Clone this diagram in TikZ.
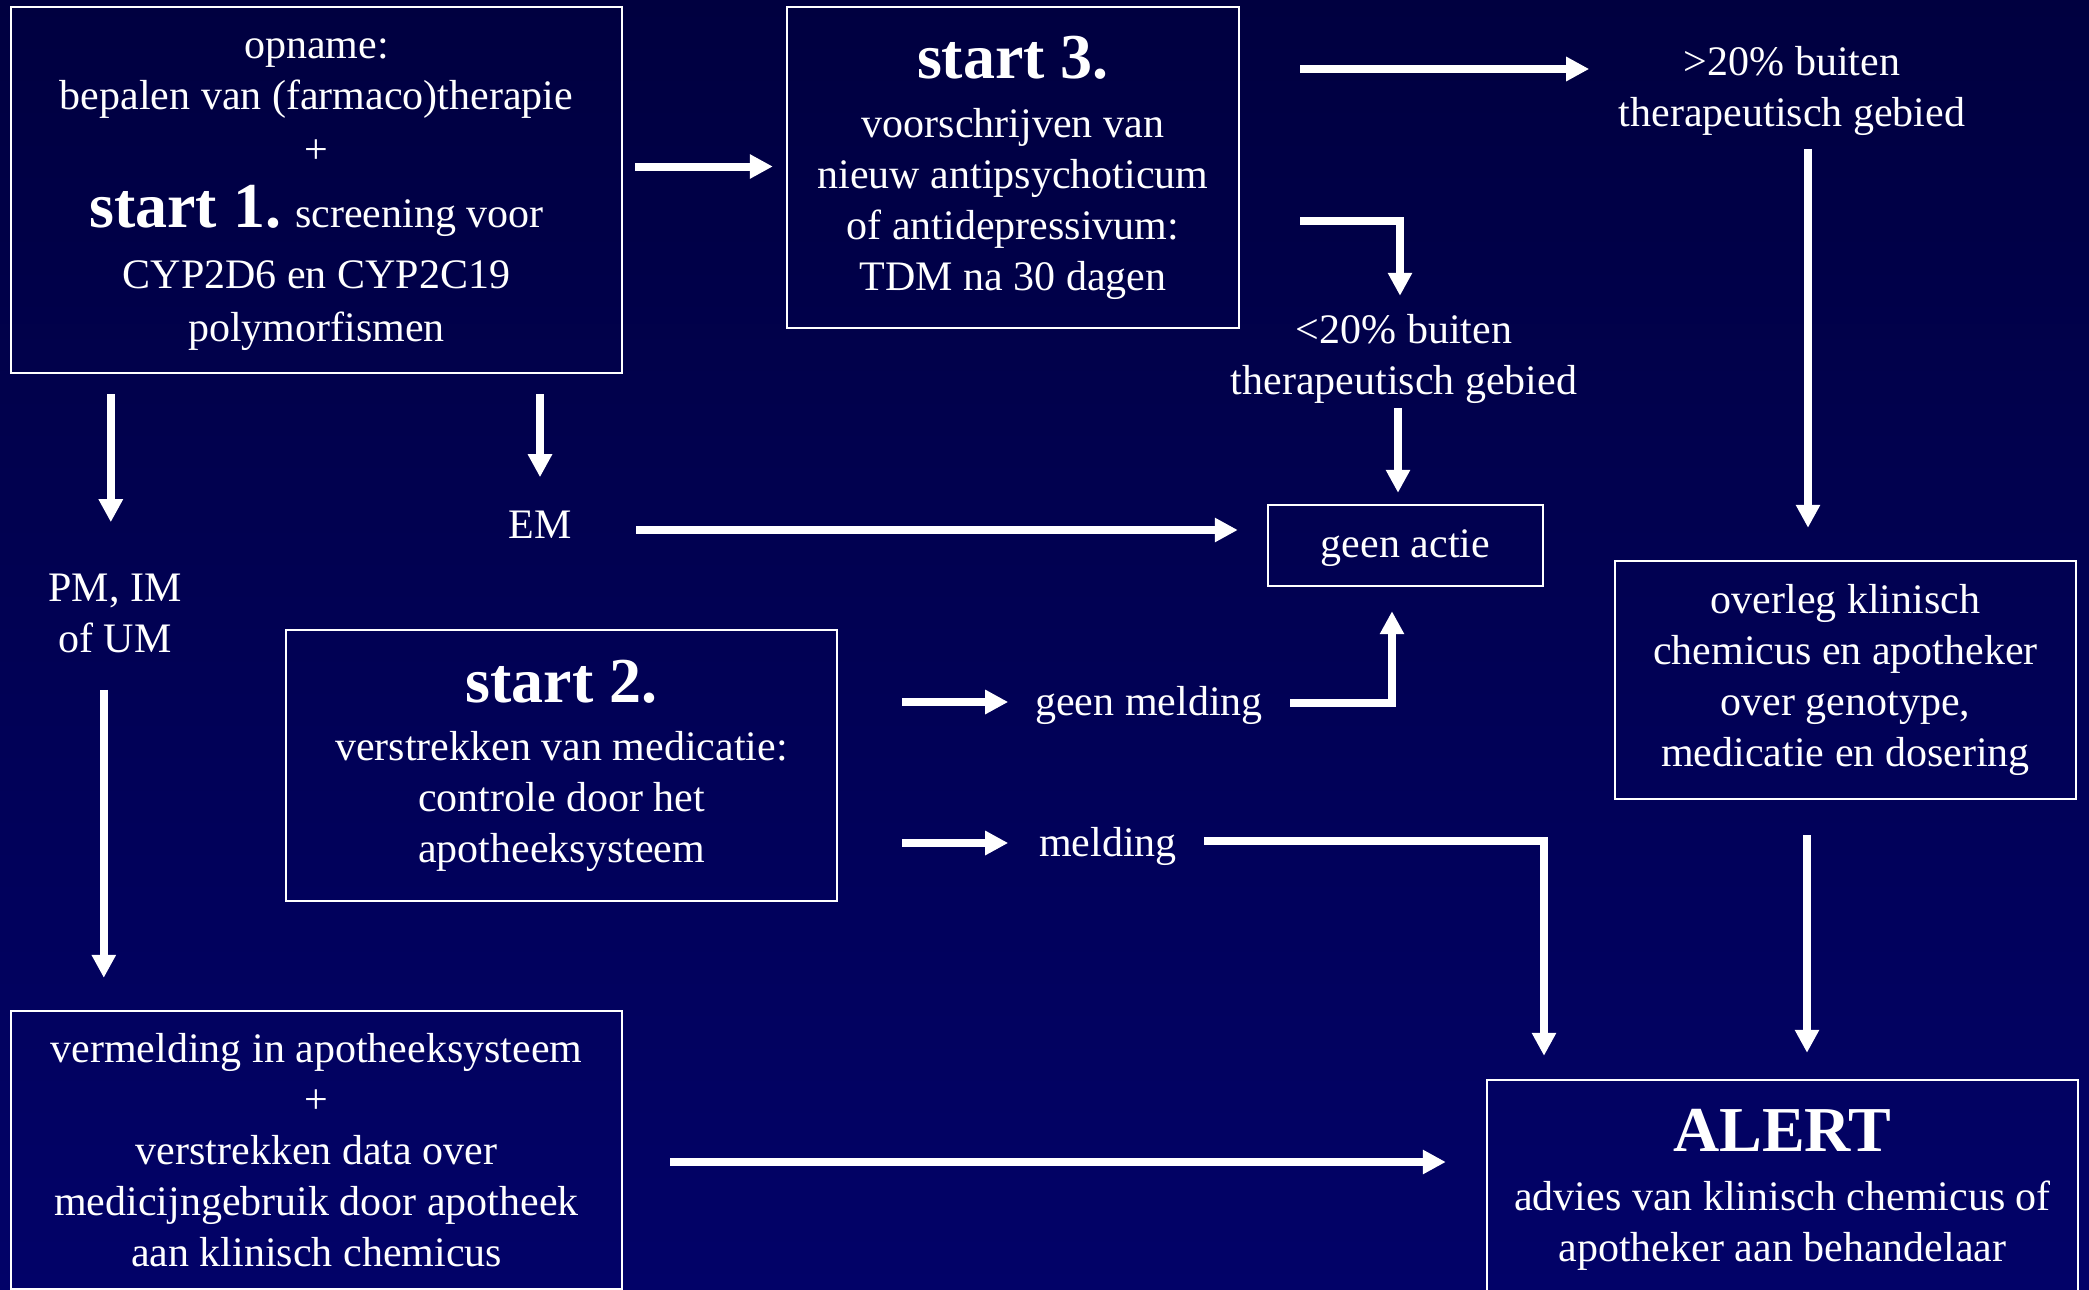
\documentclass[tikz,border=0pt]{standalone}
\usepackage{fontspec}
\setmainfont{Liberation Serif}
\usetikzlibrary{arrows.meta,calc}
\definecolor{bgtop}{RGB}{0,0,64}
\definecolor{bgbot}{RGB}{2,2,104}
\newcommand\startfont{\fontsize{32}{32}\selectfont\bfseries}
\newcommand\alertfont{\fontsize{32}{32}\selectfont\bfseries}
\tikzset{
  txt/.style={text=white, align=center, inner sep=0pt, font=\fontsize{21}{25.5}\selectfont},
  box/.style={txt, draw=white, line width=1.2pt},
  arr/.style={draw=white, line width=4pt, line join=miter, -{Triangle[length=11.5pt,width=11.5pt]}}
}
\begin{document}
\begin{tikzpicture}[x=0.5pt,y=-0.5pt]
\shade[top color=bgtop, bottom color=bgbot] (0,0) rectangle (2089,1290);
\useasboundingbox (0,0) rectangle (2089,1290);

% boxes (sizes in pt = px/2)
\node[box, minimum width=305.5pt, minimum height=183pt] (b1) at (316.5,190)
  {\rule{0pt}{14.4pt}opname:\\bepalen van (farmaco)therapie\\[1.3pt]+\\[6.7pt]{\startfont start 1.} screening voor\\[5pt]CYP2D6 en CYP2C19\\[0.7pt]polymorfismen};
\node[box, minimum width=226pt, minimum height=160.5pt] (s3) at (1013,167.5)
  {{\startfont start 3.}\\[4pt]voorschrijven van\\nieuw antipsychoticum\\of antidepressivum:\\TDM na 30 dagen};
\node[box, minimum width=275.5pt, minimum height=135.5pt] (s2) at (561.5,765.5)
  {{\startfont start 2.}\\[3.5pt]verstrekken van medicatie:\\controle door het\\apotheeksysteem};
\node[box, minimum width=137.5pt, minimum height=40.5pt] (ga) at (1405.5,545.5) {\rule{0pt}{17pt}geen actie};
\node[box, minimum width=230.5pt, minimum height=119pt] (ov) at (1845.5,680)
  {overleg klinisch\\chemicus en apotheker\\over genotype,\\medicatie en dosering};
\node[box, minimum width=295.5pt, minimum height=110pt] (al) at (1782.5,1190)
  {{\alertfont ALERT}\\[4pt]advies van klinisch chemicus of\\apotheker aan behandelaar};
\node[box, minimum width=305.5pt, minimum height=139pt] (bl) at (316.5,1150)
  {vermelding in apotheeksysteem\\+\\verstrekken data over\\medicijngebruik door apotheek\\aan klinisch chemicus};

% labels
\node[txt] (gt20) at (1792,91) {>20\% buiten\\therapeutisch gebied};
\node[txt] (lt20) at (1404,359) {<20\% buiten\\therapeutisch gebied};
\node[txt] (em) at (540,525) {EM};
\node[txt] (pm) at (115,613) {PM, IM\\of UM};
\node[txt] (gm) at (1149,705) {geen melding};
\node[txt] (ml) at (1108,846) {melding};

% connectors
\draw[arr] ($(b1.east)+(12,-23.5)$) -- ($(s3.west)+(-13,-1)$);
\draw[arr] ($(s3.east)+(60,-98.5)$) -- ($(s3.east)+(349,-98.5)$);
\draw[arr] ($(ov.north)+(-37.5,-411)$) -- ($(ov.north)+(-37.5,-32)$);
\draw[arr] ($(s3.east)+(60,53.5)$) -| ($(ga.north)+(-5.5,-208)$);
\draw[arr] ($(ga.north)+(-7.5,-96)$) -- ($(ga.north)+(-7.5,-11)$);
\draw[arr] ($(b1.south)+(223.5,20)$) -- ($(b1.south)+(223.5,103)$);
\draw[arr] ($(b1.south west)+(101,20)$) -- ($(b1.south west)+(101,148)$);
\draw[arr] ($(em)+(96,5)$) -- ($(ga.west)+(-29,-15.5)$);
\draw[arr] ($(bl.north west)+(94,-320)$) -- ($(bl.north west)+(94,-32)$);
\draw[arr] ($(bl.east)+(47,12)$) -- ($(al.west)+(-40,-28)$);
\draw[arr] ($(s2.east)+(64,-63.5)$) -- ($(s2.east)+(170,-63.5)$);
\draw[arr] ($(ga.south)+(-115.5,116)$) -| ($(ga.south)+(-13.5,24)$);
\draw[arr] ($(s2.east)+(64,77.5)$) -- ($(s2.east)+(170,77.5)$);
\draw[arr] ($(al.north)+(-578.5,-238)$) -| ($(al.north)+(-238.5,-23)$);
\draw[arr] ($(ov.south)+(-38.5,35)$) -- ($(al.north)+(24.5,-26)$);
\end{tikzpicture}
\end{document}
